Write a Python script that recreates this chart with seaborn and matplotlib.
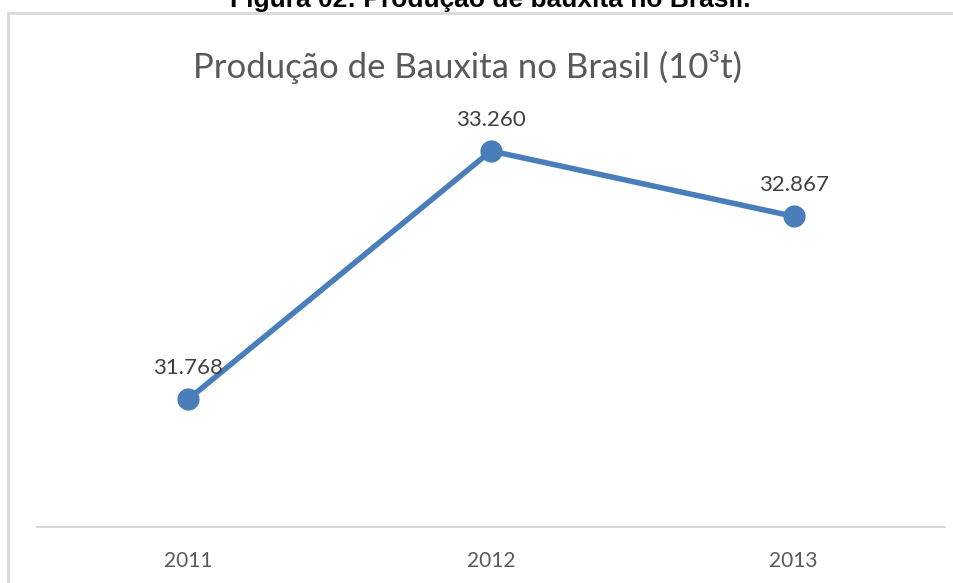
import matplotlib
matplotlib.use("Agg")
import matplotlib.pyplot as plt
import seaborn as sns
import pandas as pd
from matplotlib.patches import Rectangle

# dados
anos = ["2011", "2012", "2013"]
producao = [31768, 33260, 32867]
rotulos = ["31.768", "33.260", "32.867"]

titulo = "Produção de Bauxita no Brasil (10³t)"
legenda_figura = "Figura 02: Produção de bauxita no Brasil."

sns.set_theme(style="white")
plt.rcParams['font.family'] = ['Lato', 'DejaVu Sans']

df = pd.DataFrame({"ano": anos, "producao": producao})

fig = plt.figure(figsize=(9.54, 5.83), dpi=100)
W, H = 954, 583
ax = fig.add_axes([37 / W, 1 - 527 / H, (945 - 37) / W, (527 - 111) / H])

sns.lineplot(data=df, x="ano", y="producao", ax=ax, color="#4a7ebb",
             linewidth=4, marker="o", markersize=16, markeredgewidth=0,
             sort=False)

ax.set_xlim(-0.5, 2.5)
ax.set_ylim(31000, 33500)
ax.set_yticks([])
ax.set_xlabel("")
ax.set_ylabel("")
for s in ["top", "right", "left"]:
    ax.spines[s].set_visible(False)
ax.spines["bottom"].set_color("#d9d9d9")
ax.spines["bottom"].set_linewidth(1.5)
ax.tick_params(axis="x", length=0, pad=17, labelsize=15, labelcolor="#595959")

for i, (v, r) in enumerate(zip(producao, rotulos)):
    ax.annotate(r, (i, v), xytext=(0, 15), textcoords="offset points",
                ha="center", va="bottom", fontsize=16, color="#404040")

fig.text(468 / W, 1 - 67 / H, titulo, ha="center", va="center",
         fontsize=25, color="#595959")

# moldura do grafico
fig.patches.append(Rectangle((8 / W, -0.1), 1.0, 1 - 13 / H + 0.1,
                             transform=fig.transFigure, fill=False,
                             edgecolor="#d9d9d9", linewidth=2))

fig.text(490 / W, 1 - 7 / H, legenda_figura, ha="center", va="baseline",
         fontsize=19, fontweight="bold", color="black",
         family=["Liberation Sans", "DejaVu Sans"])

fig.savefig("out.png", dpi=100)
